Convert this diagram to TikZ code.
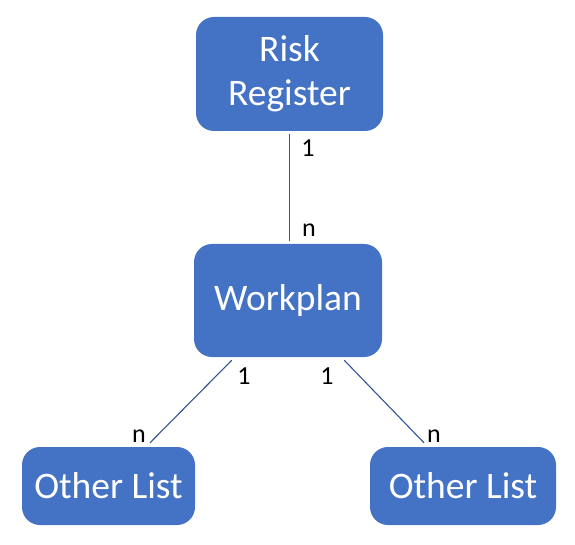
\documentclass[tikz,border=0pt]{standalone}
\usepackage{fontspec}
\setmainfont{Carlito}
\usetikzlibrary{positioning}

\begin{document}
\begin{tikzpicture}[x=1pt, y=-1pt]
  % colors close to the figure
  \definecolor{boxblue}{RGB}{68,114,196}
  \definecolor{lineblue}{RGB}{47,85,151}

  \tikzset{
    entity/.style={fill=boxblue, rounded corners=18pt, text=white,
      align=center, inner sep=0pt, font=\fontsize{37.5}{44}\selectfont},
    link/.style={lineblue, line width=1.1pt},
    card/.style={font=\fontsize{26}{30}\selectfont, inner sep=0pt}
  }

  % page size
  \useasboundingbox (0,0) rectangle (575,545);

  % boxes
  \node[entity, minimum width=187pt, minimum height=114pt] (rr) at (289.5,74) {Risk\\Register};
  \node[entity, minimum width=188pt, minimum height=113pt] (wp) at (288,300.5) {Workplan};
  \node[entity, minimum width=173pt, minimum height=78pt] (olA) at (108.5,486) {Other List};
  \node[entity, minimum width=186pt, minimum height=78pt] (olB) at (463,486) {Other List};

  % connector end points
  \coordinate (rrb) at ([yshift=-3pt]rr.south);
  \coordinate (wpt) at ([yshift=3pt]wp.north);
  \coordinate (wpl) at ([xshift=38pt,yshift=-3pt]wp.south west);
  \coordinate (wpr) at ([xshift=-38pt,yshift=-3pt]wp.south east);
  \coordinate (olAt) at ([xshift=41.5pt,yshift=4pt]olA.north);
  \coordinate (olBt) at ([xshift=-39pt,yshift=4pt]olB.north);

  % connectors
  \draw[link] (rrb) -- (rrb |- wpt);
  \draw[link] (wpl) -- (olAt);
  \draw[link] (wpr) -- (olBt);

  % cardinalities
  \node[card] (c1) at (308,148) {1};
  \node[card] (c2) at (309,230) {n};
  \node[card] (c3) at (244,376) {1};
  \node[card] (c4) at (327,376) {1};
  \node[card] (c5) at (139,436) {n};
  \node[card] (c6) at (434,436) {n};
\end{tikzpicture}
\end{document}
